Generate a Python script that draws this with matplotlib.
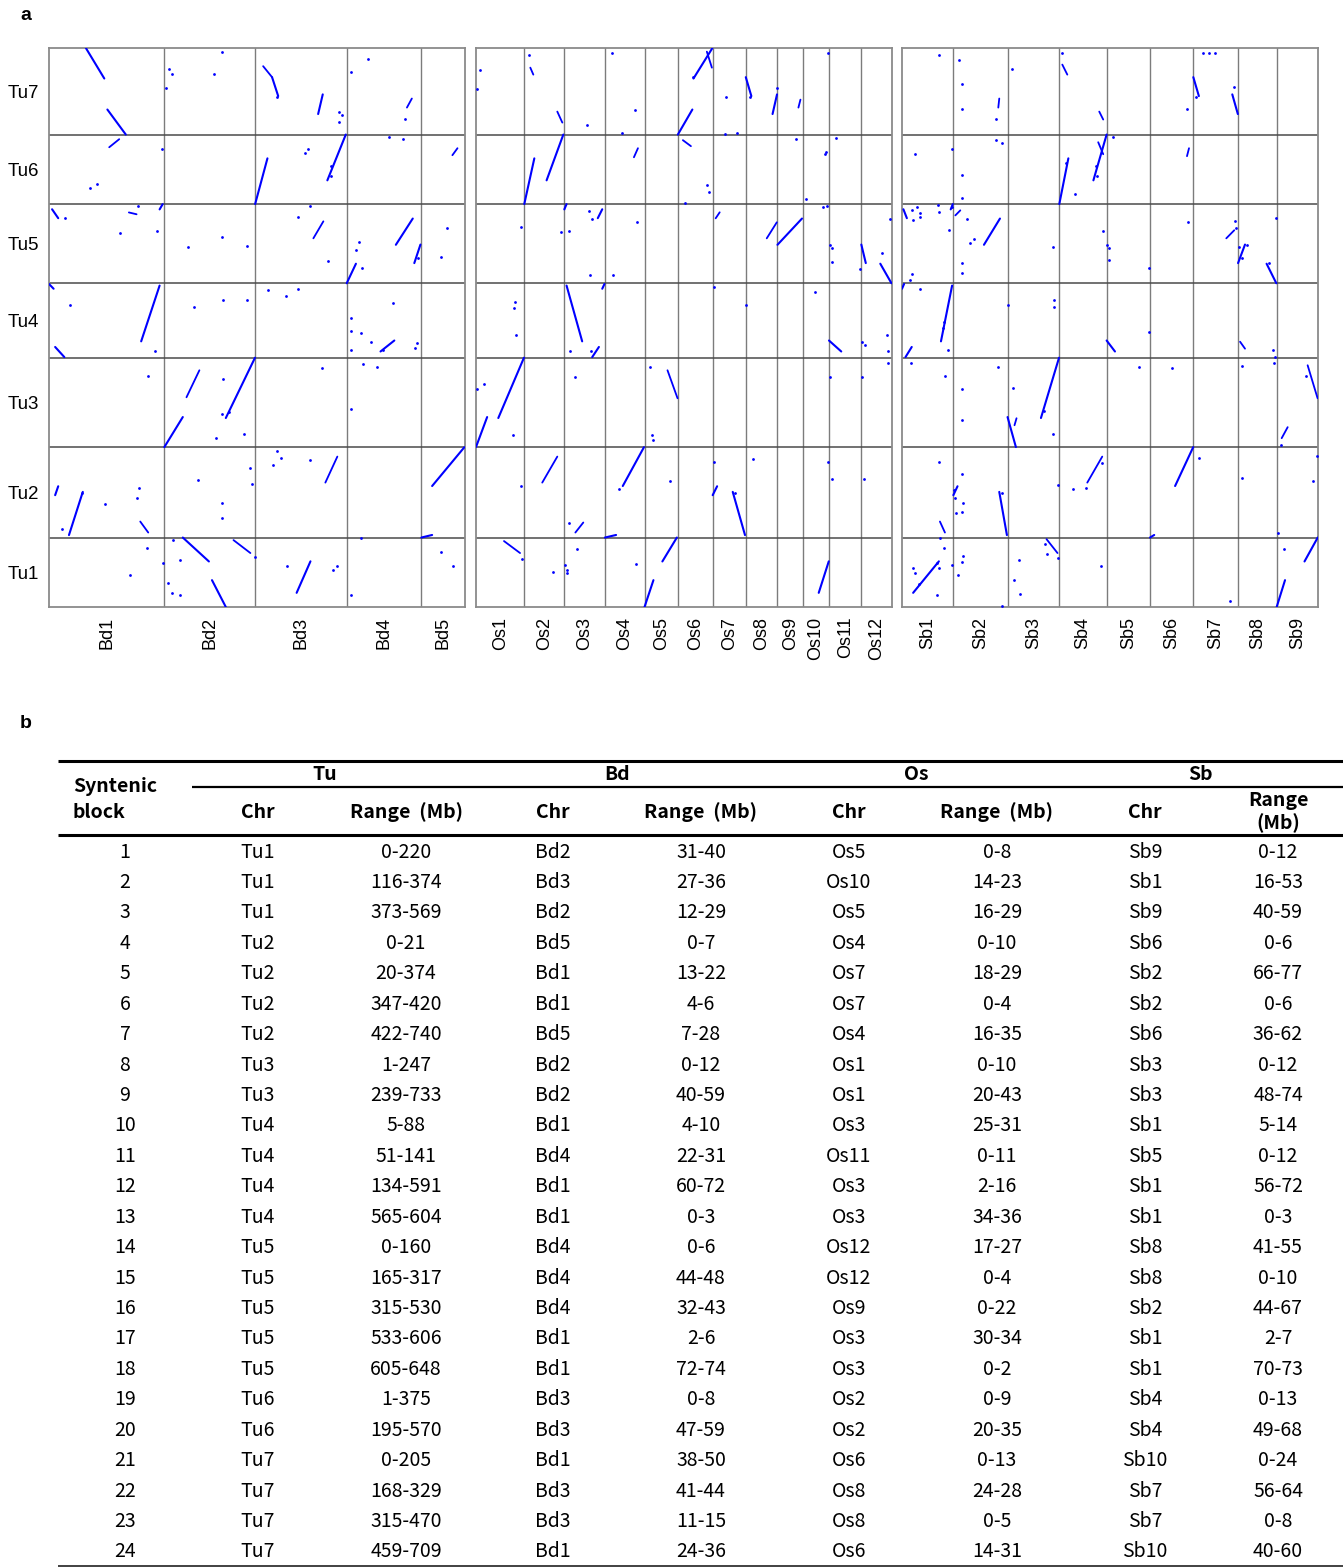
import numpy as np
import matplotlib
matplotlib.use("Agg")
import matplotlib.pyplot as plt

W, H = 1343, 1567
BLUE = "#0000ff"

# Genome sizes (Mb)
tu_names = ["Tu1", "Tu2", "Tu3", "Tu4", "Tu5", "Tu6", "Tu7"]
tu_len = [569, 740, 733, 610, 648, 570, 709]
bd_names = ["Bd1", "Bd2", "Bd3", "Bd4", "Bd5"]
bd_len = [75.1, 59.1, 59.6, 48.6, 28.4]
os_names = ["Os1", "Os2", "Os3", "Os4", "Os5", "Os6", "Os7", "Os8", "Os9", "Os10", "Os11", "Os12"]
os_len = [43.3, 35.9, 36.4, 35.5, 29.9, 31.2, 29.7, 28.4, 23.0, 23.2, 29.0, 27.5]
sb_names = ["Sb1", "Sb2", "Sb3", "Sb4", "Sb5", "Sb6", "Sb7", "Sb8", "Sb9"]
sb_len = [73.8, 77.9, 74.4, 68.0, 62.4, 62.2, 64.3, 55.5, 59.4]

# Syntenic blocks (table b)
block_id = list(range(1, 25))
tu_chr = ["Tu1", "Tu1", "Tu1", "Tu2", "Tu2", "Tu2", "Tu2", "Tu3", "Tu3", "Tu4", "Tu4", "Tu4",
          "Tu4", "Tu5", "Tu5", "Tu5", "Tu5", "Tu5", "Tu6", "Tu6", "Tu7", "Tu7", "Tu7", "Tu7"]
tu_range = ["0-220", "116-374", "373-569", "0-21", "20-374", "347-420", "422-740", "1-247",
            "239-733", "5-88", "51-141", "134-591", "565-604", "0-160", "165-317", "315-530",
            "533-606", "605-648", "1-375", "195-570", "0-205", "168-329", "315-470", "459-709"]
bd_chr = ["Bd2", "Bd3", "Bd2", "Bd5", "Bd1", "Bd1", "Bd5", "Bd2", "Bd2", "Bd1", "Bd4", "Bd1",
          "Bd1", "Bd4", "Bd4", "Bd4", "Bd1", "Bd1", "Bd3", "Bd3", "Bd1", "Bd3", "Bd3", "Bd1"]
bd_range = ["31-40", "27-36", "12-29", "0-7", "13-22", "4-6", "7-28", "0-12", "40-59", "4-10",
            "22-31", "60-72", "0-3", "0-6", "44-48", "32-43", "2-6", "72-74", "0-8", "47-59",
            "38-50", "41-44", "11-15", "24-36"]
os_chr = ["Os5", "Os10", "Os5", "Os4", "Os7", "Os7", "Os4", "Os1", "Os1", "Os3", "Os11", "Os3",
          "Os3", "Os12", "Os12", "Os9", "Os3", "Os3", "Os2", "Os2", "Os6", "Os8", "Os8", "Os6"]
os_range = ["0-8", "14-23", "16-29", "0-10", "18-29", "0-4", "16-35", "0-10", "20-43", "25-31",
            "0-11", "2-16", "34-36", "17-27", "0-4", "0-22", "30-34", "0-2", "0-9", "20-35",
            "0-13", "24-28", "0-5", "14-31"]
sb_chr = ["Sb9", "Sb1", "Sb9", "Sb6", "Sb2", "Sb2", "Sb6", "Sb3", "Sb3", "Sb1", "Sb5", "Sb1",
          "Sb1", "Sb8", "Sb8", "Sb2", "Sb1", "Sb1", "Sb4", "Sb4", "Sb10", "Sb7", "Sb7", "Sb10"]
sb_range = ["0-12", "16-53", "40-59", "0-6", "66-77", "0-6", "36-62", "0-12", "48-74", "5-14",
            "0-12", "56-72", "0-3", "41-55", "0-10", "44-67", "2-7", "70-73", "0-13", "49-68",
            "0-24", "56-64", "0-8", "40-60"]

# block orientation in each dot plot
bd_strand = [-1, 1, -1, 1, 1, 1, 1, 1, 1, -1, 1, 1, -1, 1, 1, 1, -1, 1, 1, 1, -1, 1, -1, -1]
os_strand = [1, 1, 1, 1, -1, 1, 1, 1, 1, 1, -1, -1, 1, -1, -1, 1, 1, 1, 1, 1, 1, 1, -1, 1]
sb_strand = [1, 1, 1, 1, -1, 1, 1, -1, 1, 1, -1, 1, 1, -1, 1, 1, -1, 1, 1, 1, 1, -1, -1, 1]

# other short collinear runs: (chr, start, end, Tu chr, Tu start, Tu end)
bd_segs = [("Bd2", 14.4, 22.8, "Tu3", 409, 630), ("Bd2", 45, 56, "Tu1", 548, 442),
           ("Bd1", 59.4, 64.6, "Tu2", 131, 41), ("Bd3", 45.7, 53.5, "Tu2", 450, 663),
           ("Bd3", 37.9, 44.4, "Tu5", 368, 507), ("Bd1", 39.2, 45.7, "Tu6", 466, 532),
           ("Bd5", 20.2, 23.5, "Tu6", 401, 458), ("Bd4", 39.2, 42.4, "Tu7", 221, 295),
           ("Bd1", 52, 57, "Tu5", 580, 565), ("Bd3", 5.2, 11, "Tu7", 560, 470)]
os_segs = [("Os2", 5.4, 8.1, "Tu7", 548, 491), ("Os2", 29.6, 34.1, "Tu7", 188, 98),
           ("Os6", 26, 30.5, "Tu7", 679, 548), ("Os9", 18.8, 20.6, "Tu7", 221, 286),
           ("Os4", 26, 29.6, "Tu6", 384, 458), ("Os6", 4.5, 11.7, "Tu6", 524, 475),
           ("Os7", 2.7, 6.3, "Tu5", 532, 581), ("Os8", 18.8, 27.8, "Tu5", 368, 499),
           ("Os5", 20.6, 29.6, "Tu3", 630, 401), ("Os2", 16.1, 29.6, "Tu2", 450, 663),
           ("Os3", 9.9, 17, "Tu2", 41, 123), ("Os1", 25.1, 39.5, "Tu1", 540, 442)]
sb_segs = [("Sb2", 64.6, 66, "Tu7", 221, 295), ("Sb4", 4.3, 11.5, "Tu7", 573, 491),
           ("Sb4", 57.4, 63.1, "Tu7", 188, 123), ("Sb4", 55.9, 63.1, "Tu6", 507, 409),
           ("Sb6", 53.1, 56, "Tu6", 393, 458), ("Sb2", 2.9, 10, "Tu5", 556, 597),
           ("Sb7", 47.4, 58.8, "Tu5", 368, 434), ("Sb8", 2.9, 10, "Tu4", 131, 74),
           ("Sb3", 10, 12.9, "Tu3", 180, 237), ("Sb9", 44.5, 58.8, "Tu3", 671, 401),
           ("Sb9", 7.2, 15.8, "Tu3", 74, 164), ("Sb1", 54.5, 61.7, "Tu2", 131, 41),
           ("Sb4", 40.2, 61.7, "Tu2", 450, 663), ("Sb3", 56, 71.8, "Tu1", 556, 442)]

# scattered single hits: (chr, pos, Tu chr, Tu pos)
bd_hits = [
    ("Bd1", 64, "Tu1", 483), ("Bd1", 53, "Tu1", 262), ("Bd1", 74, "Tu1", 360),
    ("Bd2", 2.6, "Tu1", 196), ("Bd2", 5.2, "Tu1", 115), ("Bd2", 10.4, "Tu1", 98),
    ("Bd2", 5.9, "Tu1", 548), ("Bd2", 10.4, "Tu1", 384), ("Bd2", 58.7, "Tu1", 409),
    ("Bd3", 20.9, "Tu1", 335), ("Bd3", 50.9, "Tu1", 303), ("Bd3", 53.5, "Tu1", 335),
    ("Bd4", 2.6, "Tu1", 98), ("Bd4", 9.1, "Tu1", 564), ("Bd5", 13.1, "Tu1", 450), ("Bd5", 20.9, "Tu1", 335),
    ("Bd1", 58.7, "Tu2", 409), ("Bd1", 57.4, "Tu2", 327), ("Bd1", 8.5, "Tu2", 74),
    ("Bd1", 36.6, "Tu2", 278), ("Bd1", 21.5, "Tu2", 368),
    ("Bd2", 22.2, "Tu2", 474), ("Bd2", 37.2, "Tu2", 286), ("Bd2", 37.2, "Tu2", 164),
    ("Bd2", 55.5, "Tu2", 573), ("Bd2", 56.8, "Tu2", 442),
    ("Bd3", 11.7, "Tu2", 597), ("Bd3", 17, "Tu2", 654), ("Bd3", 36, "Tu2", 638), ("Bd3", 14.4, "Tu2", 712),
    ("Bd1", 64.6, "Tu3", 581), ("Bd2", 37.9, "Tu3", 556), ("Bd2", 37.2, "Tu3", 270),
    ("Bd2", 41.8, "Tu3", 286), ("Bd2", 33.3, "Tu3", 74), ("Bd2", 51.6, "Tu3", 106),
    ("Bd3", 43.7, "Tu3", 646), ("Bd4", 10.4, "Tu3", 679), ("Bd4", 19.6, "Tu3", 654), ("Bd4", 2.6, "Tu3", 311),
    ("Bd1", 13.7, "Tu4", 434), ("Bd1", 69.2, "Tu4", 57), ("Bd2", 19, "Tu4", 417),
    ("Bd2", 37.9, "Tu4", 474), ("Bd2", 53.5, "Tu4", 474),
    ("Bd3", 8.5, "Tu4", 556), ("Bd3", 20.2, "Tu4", 507), ("Bd3", 28.1, "Tu4", 564),
    ("Bd4", 2.6, "Tu4", 327), ("Bd4", 2.6, "Tu4", 221), ("Bd4", 9.1, "Tu4", 205),
    ("Bd4", 15.7, "Tu4", 131), ("Bd4", 2.6, "Tu4", 65), ("Bd4", 23.5, "Tu4", 65),
    ("Bd4", 45.7, "Tu4", 123), ("Bd4", 44.4, "Tu4", 82), ("Bd4", 30.0, "Tu4", 450),
    ("Bd1", 10.4, "Tu5", 532), ("Bd1", 46.3, "Tu5", 409), ("Bd1", 70.5, "Tu5", 425), ("Bd1", 58, "Tu5", 630),
    ("Bd2", 15.7, "Tu5", 294), ("Bd2", 37.2, "Tu5", 376), ("Bd2", 53.5, "Tu5", 303),
    ("Bd3", 28.1, "Tu5", 540), ("Bd3", 35.9, "Tu5", 630), ("Bd3", 47.6, "Tu5", 180),
    ("Bd4", 7.8, "Tu5", 335), ("Bd4", 5.9, "Tu5", 270), ("Bd4", 9.8, "Tu5", 123),
    ("Bd5", 17, "Tu5", 450), ("Bd5", 13.1, "Tu5", 213), ("Bd4", 46.3, "Tu5", 205),
    ("Bd1", 26.8, "Tu6", 131), ("Bd1", 31.3, "Tu6", 164), ("Bd1", 73.8, "Tu6", 450),
    ("Bd3", 32.6, "Tu6", 417), ("Bd3", 34.6, "Tu6", 450), ("Bd3", 49.6, "Tu6", 311), ("Bd3", 49.6, "Tu6", 229),
    ("Bd4", 27.4, "Tu6", 548), ("Bd4", 36.6, "Tu6", 532),
    ("Bd2", 3.3, "Tu7", 540), ("Bd2", 5.2, "Tu7", 499), ("Bd2", 1.3, "Tu7", 384),
    ("Bd2", 32.6, "Tu7", 499), ("Bd2", 37.2, "Tu7", 679),
    ("Bd3", 14.4, "Tu7", 311), ("Bd3", 54.8, "Tu7", 188), ("Bd3", 56.8, "Tu7", 164), ("Bd3", 54.8, "Tu7", 106),
    ("Bd4", 2.6, "Tu7", 515), ("Bd4", 13.7, "Tu7", 622), ("Bd4", 37.9, "Tu7", 131),
]
os_hits = [
    ("Os1", 3.6, "Tu7", 532), ("Os1", 0.9, "Tu7", 376), ("Os2", 4.5, "Tu7", 654), ("Os3", 20.6, "Tu7", 82),
    ("Os4", 6.3, "Tu7", 670), ("Os4", 27, "Tu7", 205), ("Os4", 15.2, "Tu7", 16), ("Os6", 13.5, "Tu7", 474),
    ("Os7", 11.7, "Tu7", 311), ("Os8", 3.6, "Tu7", 311), ("Os8", 27.8, "Tu7", 384), ("Os10", 22.4, "Tu7", 670),
    ("Os7", 10.8, "Tu7", 5), ("Os7", 21.5, "Tu7", 16),
    ("Os6", 26, "Tu6", 155), ("Os6", 27.8, "Tu6", 98), ("Os6", 6.3, "Tu6", 8), ("Os9", 17, "Tu6", 532),
    ("Os10", 20.6, "Tu6", 425), ("Os10", 19.7, "Tu6", 409), ("Os11", 6.3, "Tu6", 540), ("Os10", 2.7, "Tu6", 41),
    ("Os1", 40.4, "Tu5", 458), ("Os2", 33.2, "Tu5", 417), ("Os3", 4.5, "Tu5", 425),
    ("Os3", 23.3, "Tu5", 65), ("Os4", 7.2, "Tu5", 65),
    ("Os3", 22.4, "Tu5", 589), ("Os3", 25.1, "Tu5", 524), ("Os4", 28.7, "Tu5", 499),
    ("Os10", 17.9, "Tu5", 622), ("Os10", 21.5, "Tu5", 630), ("Os11", 0.9, "Tu5", 311),
    ("Os11", 2.7, "Tu5", 286), ("Os11", 2.7, "Tu5", 172),
    ("Os12", 18.8, "Tu5", 245), ("Os12", 26, "Tu5", 523), ("Os11", 28.2, "Tu5", 115),
    ("Os1", 35, "Tu4", 458), ("Os1", 34.1, "Tu4", 409), ("Os1", 35.9, "Tu4", 188),
    ("Os3", 5.4, "Tu4", 57), ("Os3", 24.2, "Tu4", 57),
    ("Os7", 0.9, "Tu4", 581), ("Os7", 29.6, "Tu4", 434), ("Os10", 10.8, "Tu4", 540),
    ("Os12", 0.9, "Tu4", 131), ("Os12", 3.6, "Tu4", 106), ("Os12", 23.3, "Tu4", 188), ("Os12", 24.2, "Tu4", 57),
    ("Os1", 0.9, "Tu3", 474), ("Os1", 7.2, "Tu3", 515), ("Os1", 33.2, "Tu3", 98), ("Os3", 9.9, "Tu3", 573),
    ("Os5", 4.5, "Tu3", 654), ("Os5", 6.3, "Tu3", 98), ("Os5", 7.2, "Tu3", 57),
    ("Os11", 0.5, "Tu3", 573), ("Os12", 0.5, "Tu3", 573), ("Os12", 24.2, "Tu3", 687),
    ("Os1", 40.4, "Tu2", 425), ("Os4", 12.6, "Tu2", 401), ("Os5", 22.4, "Tu2", 466),
    ("Os7", 0.9, "Tu2", 622), ("Os7", 19.7, "Tu2", 368),
    ("Os8", 6.3, "Tu2", 646), ("Os10", 22.4, "Tu2", 622), ("Os11", 2.7, "Tu2", 483),
    ("Os12", 2.7, "Tu2", 483), ("Os3", 4.5, "Tu2", 123),
    ("Os1", 41.3, "Tu1", 393), ("Os2", 26, "Tu1", 286), ("Os3", 0.9, "Tu1", 344),
    ("Os3", 2.7, "Tu1", 303), ("Os3", 2.7, "Tu1", 278),
    ("Os3", 11.7, "Tu1", 474), ("Os4", 27.8, "Tu1", 352),
]
sb_hits = [
    ("Sb1", 53.1, "Tu7", 654), ("Sb2", 8.6, "Tu7", 613), ("Sb2", 12.9, "Tu7", 417), ("Sb2", 12.9, "Tu7", 213),
    ("Sb2", 61.7, "Tu7", 131), ("Sb3", 5.7, "Tu7", 540), ("Sb4", 4.3, "Tu7", 670), ("Sb6", 53.1, "Tu7", 213),
    ("Sb7", 4.3, "Tu7", 311), ("Sb7", 14.4, "Tu7", 670), ("Sb7", 22.9, "Tu7", 670), ("Sb7", 31.6, "Tu7", 670),
    ("Sb7", 58.8, "Tu7", 393),
    ("Sb1", 18.7, "Tu6", 409), ("Sb1", 71.8, "Tu6", 450), ("Sb2", 12.9, "Tu6", 237), ("Sb2", 12.9, "Tu6", 49),
    ("Sb2", 61.7, "Tu6", 524), ("Sb2", 70.3, "Tu6", 499), ("Sb4", 10, "Tu6", 335), ("Sb4", 22.9, "Tu6", 82),
    ("Sb4", 53.1, "Tu6", 311), ("Sb4", 54.5, "Tu6", 229), ("Sb5", 8.6, "Tu6", 548),
    ("Sb1", 14.4, "Tu5", 597), ("Sb1", 21.5, "Tu5", 622), ("Sb1", 25.8, "Tu5", 573), ("Sb1", 15.8, "Tu5", 515),
    ("Sb1", 25.8, "Tu5", 540), ("Sb1", 51.7, "Tu5", 638), ("Sb1", 53.1, "Tu5", 581), ("Sb1", 71.8, "Tu5", 622),
    ("Sb1", 67.4, "Tu5", 434), ("Sb2", 20.1, "Tu5", 523), ("Sb2", 24.4, "Tu5", 327), ("Sb2", 30.1, "Tu5", 360),
    ("Sb2", 12.9, "Tu5", 164), ("Sb2", 12.9, "Tu5", 82), ("Sb1", 14.4, "Tu5", 74), ("Sb1", 11.5, "Tu5", 25),
    ("Sb3", 66, "Tu5", 294), ("Sb4", 63.1, "Tu5", 425), ("Sb5", 0.5, "Tu5", 311), ("Sb5", 2.9, "Tu5", 286),
    ("Sb5", 2.9, "Tu5", 188), ("Sb5", 60.3, "Tu5", 123), ("Sb6", 54.5, "Tu5", 499), ("Sb7", 60.3, "Tu5", 507),
    ("Sb7", 61.7, "Tu5", 450), ("Sb8", 1.4, "Tu5", 294), ("Sb8", 12.9, "Tu5", 311), ("Sb8", 5.7, "Tu5", 205),
    ("Sb8", 44.5, "Tu5", 164), ("Sb8", 54.5, "Tu5", 532),
    ("Sb1", 25.8, "Tu4", 564), ("Sb1", 60.3, "Tu4", 294), ("Sb1", 58.8, "Tu4", 245), ("Sb1", 66, "Tu4", 65),
    ("Sb3", 67.4, "Tu4", 474), ("Sb3", 67.4, "Tu4", 417), ("Sb3", 0.5, "Tu4", 434), ("Sb5", 60.3, "Tu4", 213),
    ("Sb8", 50.2, "Tu4", 65), ("Sb8", 53.1, "Tu4", 8),
    ("Sb1", 12.9, "Tu3", 687), ("Sb1", 61.7, "Tu3", 581), ("Sb2", 12.9, "Tu3", 474), ("Sb2", 12.9, "Tu3", 221),
    ("Sb2", 64.6, "Tu3", 654), ("Sb3", 7.2, "Tu3", 483), ("Sb3", 51.7, "Tu3", 294), ("Sb3", 66, "Tu3", 106),
    ("Sb5", 45.9, "Tu3", 654), ("Sb6", 31.6, "Tu3", 646), ("Sb8", 5.7, "Tu3", 663), ("Sb8", 51.7, "Tu3", 687),
    ("Sb9", 41.6, "Tu3", 581), ("Sb9", 5.7, "Tu3", 16),
    ("Sb1", 53.1, "Tu2", 622), ("Sb2", 12.9, "Tu2", 524), ("Sb2", 1.4, "Tu2", 393), ("Sb2", 2.9, "Tu2", 327),
    ("Sb2", 14.4, "Tu2", 286), ("Sb2", 12.9, "Tu2", 213), ("Sb2", 4.3, "Tu2", 205), ("Sb2", 70.3, "Tu2", 368),
    ("Sb3", 71.8, "Tu2", 434), ("Sb4", 20.1, "Tu2", 401), ("Sb4", 38.7, "Tu2", 409), ("Sb4", 61.7, "Tu2", 614),
    ("Sb7", 8.6, "Tu2", 654), ("Sb8", 5.7, "Tu2", 491), ("Sb9", 51.7, "Tu2", 466), ("Sb9", 57.4, "Tu2", 671),
    ("Sb9", 1.4, "Tu2", 41),
    ("Sb1", 18.7, "Tu1", 278), ("Sb1", 15.8, "Tu1", 319), ("Sb1", 50.2, "Tu1", 360), ("Sb1", 52.5, "Tu1", 319),
    ("Sb1", 71.8, "Tu1", 344), ("Sb1", 24.4, "Tu1", 188), ("Sb1", 50.2, "Tu1", 98), ("Sb1", 54.5, "Tu1", 564),
    ("Sb1", 60.3, "Tu1", 483), ("Sb2", 14.4, "Tu1", 417), ("Sb2", 12.9, "Tu1", 368), ("Sb2", 7.2, "Tu1", 262),
    ("Sb2", 70.3, "Tu1", 8), ("Sb3", 15.8, "Tu1", 384), ("Sb3", 8.6, "Tu1", 221), ("Sb3", 17.2, "Tu1", 106),
    ("Sb3", 54.5, "Tu1", 515), ("Sb3", 56, "Tu1", 434), ("Sb3", 73.2, "Tu1", 401), ("Sb4", 60.3, "Tu1", 335),
    ("Sb7", 53.1, "Tu1", 49), ("Sb9", 10, "Tu1", 474),
]


def span(r):
    a, b = r.split("-")
    return float(a), float(b)


def offsets(names, lens):
    starts = np.concatenate([[0], np.cumsum(lens)[:-1]])
    return dict(zip(names, starts))


tu_off = offsets(tu_names, tu_len)

fig = plt.figure(figsize=(W / 100, H / 100), dpi=100)

# overlay in pixel coordinates for labels and the table
tab = fig.add_axes([0, 0, 1, 1])
tab.set_xlim(0, W)
tab.set_ylim(H, 0)
tab.axis("off")


def draw_panel(left, names, lens, chrs, ranges, strand, segs, hits, show_tu):
    top, bottom, width = 48, 607, 416
    ax = fig.add_axes([left / W, 1 - bottom / H, width / W, (bottom - top) / H])
    off = offsets(names, lens)
    ax.set_xlim(0, sum(lens))
    ax.set_ylim(0, sum(tu_len))
    for b in np.cumsum(lens)[:-1]:
        ax.axvline(b, color="#7c7c7c", lw=1.0, zorder=1)
    for b in np.cumsum(tu_len)[:-1]:
        ax.axhline(b, color="#4a4a4a", lw=1.1, zorder=1)
    for s in ax.spines.values():
        s.set_color("#8a8a8a")
        s.set_linewidth(1.3)

    # syntenic blocks from the table
    for i in range(len(chrs)):
        if chrs[i] not in off:
            continue
        t0, t1 = span(ranges[i])
        u0, u1 = span(tu_range[i])
        yo = tu_off[tu_chr[i]]
        ys = [yo + u0, yo + u1] if strand[i] > 0 else [yo + u1, yo + u0]
        ax.plot([off[chrs[i]] + t0, off[chrs[i]] + t1], ys, color=BLUE, lw=1.5,
                solid_capstyle="round", zorder=3)
    for c, t0, t1, tc, u0, u1 in segs:
        ax.plot([off[c] + t0, off[c] + t1], [tu_off[tc] + u0, tu_off[tc] + u1],
                color=BLUE, lw=1.3, solid_capstyle="round", zorder=3)
    hx = [off[c] + t for c, t, tc, u in hits]
    hy = [tu_off[tc] + u for c, t, tc, u in hits]
    ax.scatter(hx, hy, s=4, color=BLUE, linewidths=0, zorder=3)

    centers = np.cumsum(lens) - np.array(lens) / 2
    ax.set_xticks(centers)
    ax.set_xticklabels(names, rotation=90, fontsize=13, family="Liberation Sans")
    if show_tu:
        ax.set_yticks(np.cumsum(tu_len) - np.array(tu_len) / 2)
        ax.set_yticklabels(tu_names, fontsize=13.5, family="Liberation Sans")
    else:
        ax.set_yticks([])
    ax.tick_params(length=0, pad=7)
    return ax


draw_panel(49, bd_names, bd_len, bd_chr, bd_range, bd_strand, bd_segs, bd_hits, True)
draw_panel(476, os_names, os_len, os_chr, os_range, os_strand, os_segs, os_hits, False)
draw_panel(902, sb_names, sb_len, sb_chr, sb_range, sb_strand, sb_segs, sb_hits, False)

# panel letters
tab.text(20, 15, "a", fontsize=14, fontweight="bold", family="Liberation Sans", va="center")
tab.text(20, 723, "b", fontsize=14, fontweight="bold", family="Liberation Sans", va="center")

# ---- table b ----
tfont = ["Noto Sans CJK KR", "DejaVu Sans"]
fs = 14
col_x = [125, 258, 406, 553, 701, 849, 997, 1145, 1278]
group_x = [325, 617, 916, 1200]
group_names = ["Tu", "Bd", "Os", "Sb"]

tab.plot([58, W], [761, 761], color="black", lw=2.2, solid_capstyle="butt")
tab.plot([192, W], [787, 787], color="black", lw=1.6, solid_capstyle="butt")
tab.plot([58, W], [835, 835], color="black", lw=2.2, solid_capstyle="butt")
tab.plot([58, W], [1566, 1566], color="#333333", lw=1.3, solid_capstyle="butt")

for gx, gn in zip(group_x, group_names):
    tab.text(gx, 775, gn, ha="center", va="center", fontsize=fs, fontweight="bold", family=tfont)
tab.text(73, 787, "Syntenic", ha="left", va="center", fontsize=fs, fontweight="bold", family=tfont)
tab.text(73, 812, "block", ha="left", va="center", fontsize=fs, fontweight="bold", family=tfont)
for k in range(4):
    tab.text(col_x[1 + 2 * k], 812, "Chr", ha="center", va="center", fontsize=fs,
             fontweight="bold", family=tfont)
for k in range(3):
    tab.text(col_x[2 + 2 * k], 812, "Range  (Mb)", ha="center", va="center", fontsize=fs,
             fontweight="bold", family=tfont)
tab.text(col_x[8], 801, "Range", ha="center", va="center", fontsize=fs, fontweight="bold", family=tfont)
tab.text(col_x[8], 823, "(Mb)", ha="center", va="center", fontsize=fs, fontweight="bold", family=tfont)

columns = [block_id, tu_chr, tu_range, bd_chr, bd_range, os_chr, os_range, sb_chr, sb_range]
for i in range(len(block_id)):
    y = 852 + i * 30.43
    for cx, col in zip(col_x, columns):
        tab.text(cx, y, str(col[i]), ha="center", va="center", fontsize=fs, family=tfont)

fig.savefig("out.png", dpi=100)
